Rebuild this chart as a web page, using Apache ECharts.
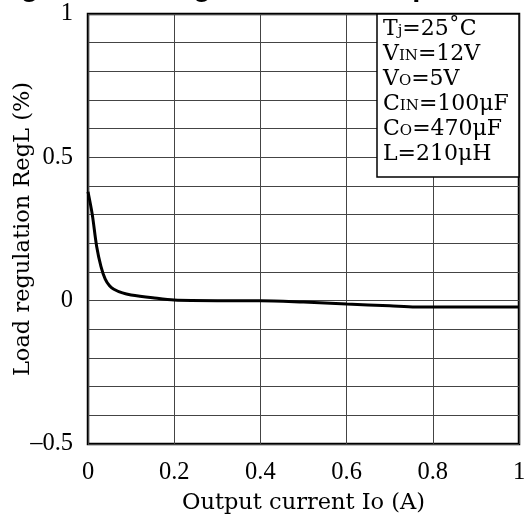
<!DOCTYPE html>
<html><head><meta charset="utf-8">
<script src="https://cdn.jsdelivr.net/npm/echarts@6/dist/echarts.min.js"></script>
<style>html,body{margin:0;padding:0;background:#fff}#c{width:527px;height:521px}</style>
</head><body><div id="c"></div>
<script>
const currentA = [0, 0.01, 0.02, 0.03, 0.04, 0.05, 0.06, 0.08, 0.1, 0.15, 0.2, 0.3, 0.4, 0.5, 0.6, 0.7, 0.76, 0.8, 0.9, 1.0];
const regL = [0.38, 0.30, 0.19, 0.12, 0.075, 0.052, 0.04, 0.027, 0.02, 0.01, 0.002, 0, 0, -0.005, -0.012, -0.018, -0.022, -0.022, -0.022, -0.022];
const yLabels = {'1': '1', '0.5': '0.5', '0': '0', '-0.5': '\u20130.5'};
const xLabels = {'0': '0', '0.2': '0.2', '0.4': '0.4', '0.6': '0.6', '0.8': '0.8', '1': '1'};
const titleText = 'Fig.5  Load Regulation vs. Output Current';

const serif = '"Liberation Serif", "DejaVu Serif", serif';
const wide = '"DejaVu Serif", "Liberation Serif", serif';
const chart = echarts.init(document.getElementById('c'), null, {renderer: 'canvas'});
const fmt = v => Math.round(v * 10) / 10;
chart.setOption({
  animation: false,
  backgroundColor: '#fff',
  grid: {left: 88, right: 8, top: 14, bottom: 77, outerBoundsMode: 'none', containLabel: false,
    show: true, borderColor: '#000', borderWidth: 2.5, backgroundColor: 'transparent'},
  xAxis: {
    type: 'value', min: 0, max: 1, interval: 0.2,
    name: 'Output current Io (A)', nameLocation: 'middle', nameGap: 48, nameMoveOverlap: false,
    nameTextStyle: {fontFamily: wide, fontSize: 22.5, color: '#000'},
    axisLine: {show: false}, axisTick: {show: false},
    axisLabel: {fontFamily: serif, fontSize: 24.5, color: '#000', margin: 16,
      formatter: v => xLabels[String(fmt(v))] ?? ''},
    splitLine: {show: true, lineStyle: {color: '#444', width: 1}}
  },
  yAxis: {
    type: 'value', min: -0.5, max: 1, interval: 0.1,
    name: 'Load regulation RegL (%)', nameLocation: 'middle', nameGap: 53, nameMoveOverlap: false,
    nameTextStyle: {fontFamily: wide, fontSize: 22.5, color: '#000'},
    axisLine: {show: false}, axisTick: {show: false},
    axisLabel: {fontFamily: serif, fontSize: 24.5, color: '#000', margin: 15,
      formatter: v => yLabels[String(fmt(v))] ?? ''},
    splitLine: {show: true, lineStyle: {color: '#444', width: 1}}
  },
  series: [{
    type: 'line', data: currentA.map((x, i) => [x, regL[i]]),
    showSymbol: false, smooth: 0.3, lineStyle: {color: '#000', width: 3}, z: 5
  }],
  graphic: [
    {type: 'text', x: -5, y: -26.5, style: {text: titleText, font: 'bold 29px "Liberation Sans", Arial, sans-serif', fill: '#000'}},
    {type: 'rect', shape: {x: 377, y: 14, width: 142, height: 163}, style: {fill: '#fff', stroke: '#000', lineWidth: 1.5}, z: 10},
    {type: 'text', x: 383, y: 17, z: 11, style: {
      text: 'T{s|j}=25\u02DAC\nV{s|IN}=12V\nV{s|O}=5V\nC{s|IN}=100\u03BCF\nC{s|O}=470\u03BCF\nL=210\u03BCH',
      font: '22px ' + wide, fill: '#000', lineHeight: 25,
      rich: {s: {fontFamily: wide, fontSize: 15, fill: '#000', verticalAlign: 'middle', padding: [4, 0, 0, 0]}}
    }}
  ]
});
</script></body></html>
